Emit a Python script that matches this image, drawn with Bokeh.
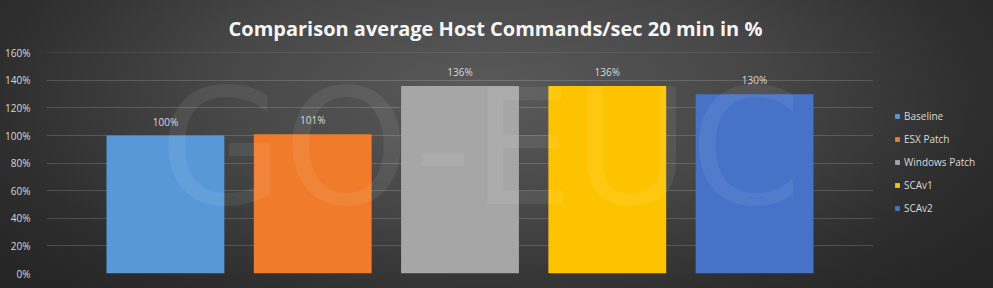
from bokeh.plotting import figure
from bokeh.layouts import row
from bokeh.models import (ColumnDataSource, FactorRange, Range1d, SingleIntervalTicker,
                          PrintfTickFormatter, Legend, LegendItem, Label)
from bokeh.core.properties import value
from bokeh.embed import file_html
from bokeh.resources import INLINE

# ---- data ----
series = ["Baseline", "ESX Patch", "Windows Patch", "SCAv1", "SCAv2"]
values = [100, 101, 136, 136, 130]
colors = ["#5898d9", "#ef7b2b", "#a6a6a6", "#fdc300", "#4672c8"]
y_ticks = [0, 20, 40, 60, 80, 100, 120, 140, 160]
title_text = "Comparison average Host Commands/sec 20 min in %"
watermark = "GO-EUC"

labels = [f"{v}%" for v in values]
source = ColumnDataSource(dict(name=series, value=values, color=colors, label=labels))

# ---- main chart ----
p = figure(
    width=873, height=288,
    x_range=FactorRange(factors=series, range_padding=0.3075, range_padding_units="absolute"),
    y_range=Range1d(0, 160.2),
    output_backend="svg", toolbar_location=None,
    min_border_left=46, min_border_right=0, min_border_top=52, min_border_bottom=15,
)
p.border_fill_alpha = 0
p.background_fill_alpha = 0
p.outline_line_color = None

p.title.text = title_text
p.title.align = "left"
p.title.offset = 182
p.title.text_font = "Open Sans"
p.title.text_font_style = "bold"
p.title.text_font_size = "20px"
p.title.text_color = "#f5f5f5"
p.title.standoff = 22

p.xaxis.visible = False
p.xgrid.visible = False
yax = p.yaxis[0]
yax.ticker = SingleIntervalTicker(interval=20)
yax.formatter = PrintfTickFormatter(format="%d%%")
yax.axis_line_color = None
yax.major_tick_line_color = None
yax.minor_tick_line_color = None
yax.major_tick_out = 0
yax.major_tick_in = 0
yax.major_label_standoff = 12
yax.major_label_text_font = "Open Sans"
yax.major_label_text_font_size = "10px"
yax.major_label_text_color = "#d6d9de"
p.ygrid.grid_line_color = "#ffffff"
p.ygrid.grid_line_alpha = 0.16
p.ygrid.ticker = SingleIntervalTicker(interval=20)

p.vbar(x="name", top="value", width=0.80, source=source,
       fill_color="color", line_color=None)

p.text(x="name", y="value", text="label", source=source,
       text_font=value("Open Sans"), text_font_size="10px", text_color="#d9d9d9",
       text_align="center", text_baseline="bottom", y_offset=-7)

# faint watermark, sized so that it stays inside the plot area
p.add_layout(Label(x=2.64, y=158.5, text=watermark, text_font="DejaVu Sans",
                   text_font_size="160px", text_color="#ffffff", text_alpha=0.07,
                   text_align="center", text_baseline="top"))

# ---- legend panel ----
pl = figure(
    width=120, height=288,
    x_range=FactorRange(factors=series), y_range=Range1d(-1000, -900),
    output_backend="svg", toolbar_location=None,
    min_border_left=0, min_border_right=0, min_border_top=52, min_border_bottom=15,
)
pl.border_fill_alpha = 0
pl.background_fill_alpha = 0
pl.outline_line_color = None
pl.axis.visible = False
pl.grid.visible = False
lbars = pl.vbar(x="name", top="value", width=0.0, source=source,
                fill_color="color", line_color=None)
legend = Legend(items=[LegendItem(label=series[i], renderers=[lbars], index=i)
                       for i in range(len(series))], location=(21, 58))
legend.glyph_width = 6
legend.glyph_height = 6
legend.label_standoff = 4
legend.label_height = 12
legend.spacing = 9
legend.padding = 0
legend.margin = 0
legend.border_line_color = None
legend.background_fill_alpha = 0
legend.label_text_font = "Open Sans"
legend.label_text_font_size = "10px"
legend.label_text_color = "#d9d9d9"
pl.add_layout(legend, "center")

layout = row(p, pl, spacing=0)
layout.styles = {"background": "radial-gradient(ellipse 62% 95% at 49% 32%, #5a5a5a 0%, #464646 45%, #2e2e2e 80%, #262626 100%)"}

open("out.html", "w").write(file_html(layout, INLINE))
